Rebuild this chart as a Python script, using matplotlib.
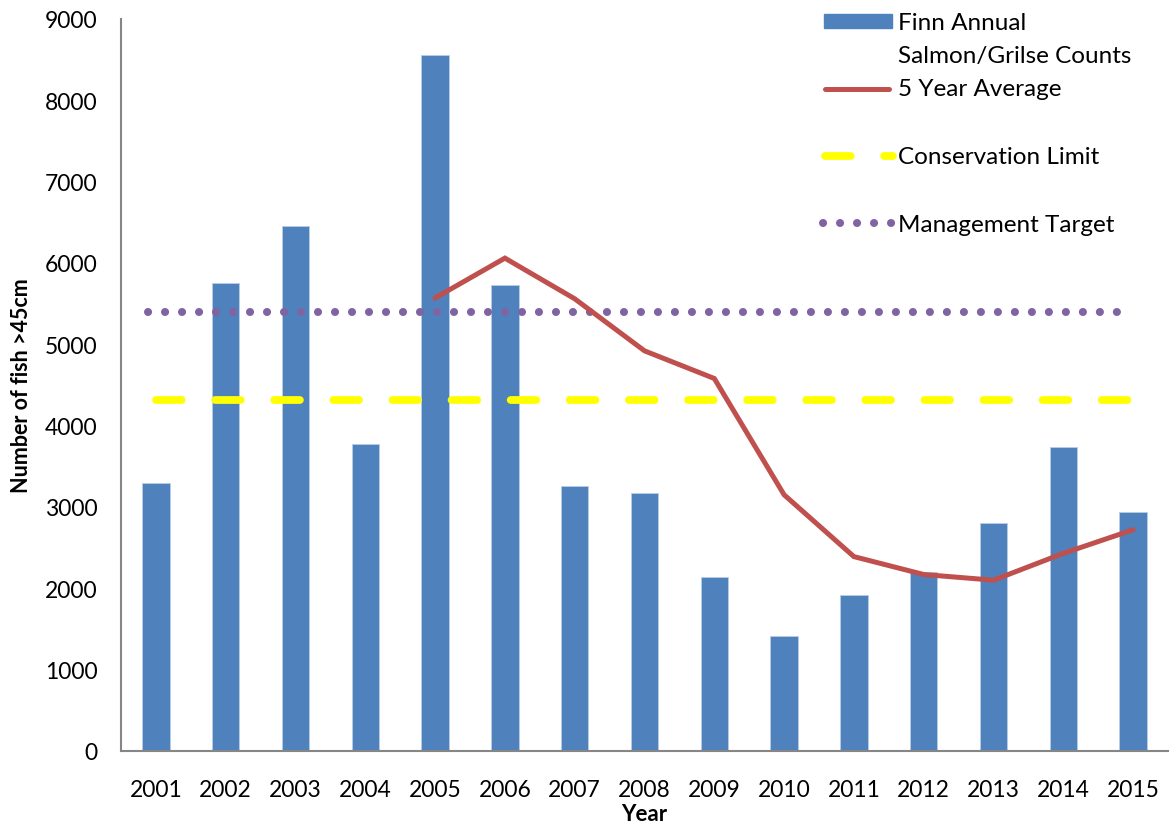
import numpy as np
import matplotlib.pyplot as plt
from matplotlib.lines import Line2D
from matplotlib.patches import Rectangle

plt.rcParams['font.family'] = ['Lato', 'DejaVu Sans']

years = ['2001', '2002', '2003', '2004', '2005', '2006', '2007', '2008',
         '2009', '2010', '2011', '2012', '2013', '2014', '2015']
counts = [3300, 5750, 6450, 3770, 8560, 5730, 3260, 3170,
          2140, 1410, 1920, 2200, 2800, 3740, 2940]
avg_years = years[4:]
five_year_avg = [5570, 6060, 5560, 4920, 4580, 3150, 2390, 2170, 2100, 2430, 2720]
conservation_limit = 4320
management_target = 5400

bar_col = '#4F81BD'
avg_col = '#C0504D'
cl_col = '#FFFF00'
mt_col = '#8064A2'

dash_style = (0, (3.3, 4.3))
dot_style = (0, (0.01, 2.1))

W, H = 1170, 828
fig = plt.figure(figsize=(W / 100, H / 100), dpi=100)
ax = fig.add_axes([121 / W, 1 - 752 / H, (1168 - 121) / W, (752 - 20) / H])

x = np.arange(len(years))
ax.bar(x, counts, width=0.39, color=bar_col, edgecolor='#B9CDE5', linewidth=0.6, zorder=2)

xa = x[4:]
ax.plot(xa, five_year_avg, color=avg_col, lw=3.6, solid_capstyle='round',
        solid_joinstyle='miter', zorder=4)
ax.plot([x[0], x[-1]], [conservation_limit] * 2, color=cl_col, lw=5.6,
        dash_capstyle='round', linestyle=dash_style, zorder=3)
ax.plot([x[0] - 0.12, x[-1]], [management_target] * 2, color=mt_col, lw=5.8,
        dash_capstyle='round', linestyle=dot_style, zorder=3)

ax.set_xlim(-0.5, len(years) - 0.5)
ax.set_ylim(0, 9000)
ax.set_yticks(range(0, 9001, 1000))
ax.set_xticks(x)
ax.set_xticklabels(years)
ax.tick_params(length=0, labelsize=16.5, colors='black')
ax.tick_params(axis='x', pad=20)
ax.tick_params(axis='y', pad=17)
for s in ['top', 'right']:
    ax.spines[s].set_visible(False)
for s in ['left', 'bottom']:
    ax.spines[s].set_color('#868686')
    ax.spines[s].set_linewidth(1.5)

ax.set_ylabel('Number of fish >45cm', fontsize=15.5, fontweight='bold', labelpad=9)
ax.set_xlabel('Year', fontsize=16, fontweight='bold', labelpad=2)

# legend, laid out by hand in figure pixels
def fx(px):
    return px / W

def fy(py):
    return 1 - py / H

tf = fig.transFigure
fig.patches.append(Rectangle((fx(824), fy(29)), fx(892) - fx(824), 14 / H,
                             transform=tf, color=bar_col, figure=fig))
fig.lines.append(Line2D([fx(825), fx(889)], [fy(90)] * 2, transform=tf, color=avg_col,
                        lw=3.6, solid_capstyle='round', figure=fig))
fig.lines.append(Line2D([fx(825), fx(893)], [fy(157)] * 2, transform=tf, color=cl_col,
                        lw=5.6, dash_capstyle='round', linestyle=dash_style, figure=fig))
fig.lines.append(Line2D([fx(823), fx(893)], [fy(224)] * 2, transform=tf, color=mt_col,
                        lw=5.8, dash_capstyle='round', linestyle=dot_style, figure=fig))
legend_labels = [('Finn Annual', 23), ('Salmon/Grilse Counts', 56), ('5 Year Average', 90),
                 ('Conservation Limit', 158), ('Management Target', 225)]
for txt, py in legend_labels:
    fig.text(fx(898), fy(py), txt, fontsize=17.5, va='center', ha='left')

fig.savefig('out.png', dpi=100)
